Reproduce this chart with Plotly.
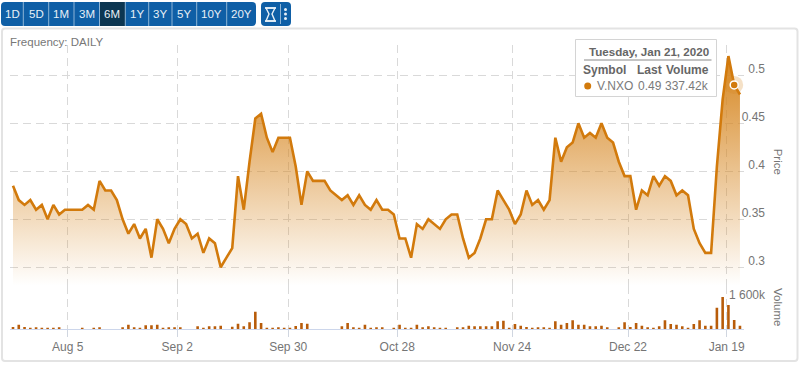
import plotly.graph_objects as go

W, H = 800, 365

price = [
    0.385, 0.37, 0.365, 0.37, 0.36, 0.365, 0.35, 0.365, 0.355, 0.36,   # 0-9
    0.36, 0.36, 0.36, 0.365, 0.36, 0.39, 0.38, 0.38, 0.37, 0.35,       # 10-19
    0.335, 0.345, 0.33, 0.34, 0.31, 0.35, 0.34, 0.325, 0.34, 0.35,     # 20-29
    0.345, 0.33, 0.335, 0.315, 0.33, 0.325, 0.30, 0.31, 0.32, 0.395,   # 30-39
    0.36, 0.41, 0.455, 0.46, 0.435, 0.42, 0.435, 0.435, 0.435, 0.405,  # 40-49
    0.365, 0.40, 0.39, 0.39, 0.39, 0.38, 0.375, 0.37, 0.375, 0.365,    # 50-59
    0.375, 0.365, 0.36, 0.37, 0.36, 0.36, 0.355, 0.33, 0.33, 0.31,     # 60-69
    0.345, 0.34, 0.35, 0.345, 0.34, 0.35, 0.355, 0.355, 0.33, 0.31,    # 70-79
    0.315, 0.33, 0.35, 0.35, 0.38, 0.37, 0.36, 0.345, 0.355, 0.38,     # 80-89
    0.365, 0.37, 0.36, 0.37, 0.435, 0.41, 0.425, 0.43, 0.45, 0.435,    # 90-99
    0.44, 0.435, 0.45, 0.435, 0.43, 0.41, 0.395, 0.395, 0.36, 0.38,    # 100-109
    0.375, 0.395, 0.385, 0.395, 0.39, 0.375, 0.38, 0.375, 0.34, 0.325, # 110-119
    0.315, 0.315, 0.405, 0.475, 0.52, 0.49, 0.48,                      # 120-126
]
volume_k = [
    74, 160, 74, 49, 62, 37, 37, 37, 62, 0,
    0, 0, 37, 0, 37, 62, 0, 0, 0, 62,
    160, 62, 37, 135, 135, 160, 37, 62, 62, 62,
    0, 0, 98, 37, 98, 98, 123, 0, 86, 197,
    98, 246, 640, 221, 37, 37, 62, 37, 37, 111,
    221, 197, 0, 0, 0, 0, 0, 98, 221, 62,
    37, 160, 37, 62, 62, 0, 37, 160, 37, 37,
    160, 62, 98, 62, 37, 37, 0, 62, 62, 123,
    98, 98, 98, 98, 283, 308, 37, 185, 123, 74,
    37, 62, 62, 37, 283, 160, 221, 320, 160, 160,
    98, 98, 123, 62, 0, 62, 246, 74, 221, 123,
    62, 37, 98, 320, 185, 160, 98, 37, 185, 320,
    123, 123, 787, 1181, 886, 337, 123,
]
trading_day = list(range(len(price)))

tick_positions = [9.48, 28.47, 47.7, 66.6, 86.5, 106.6, 123.7]
tick_labels = ["Aug 5", "Sep 2", "Sep 30", "Oct 28", "Nov 24", "Dec 22", "Jan 19"]
price_ticks = [0.3, 0.35, 0.4, 0.45, 0.5]
volume_ticks = [1600]
volume_tick_labels = ["1 600k"]
range_buttons = ["1D", "5D", "1M", "3M", "6M", "1Y", "3Y", "5Y", "10Y", "20Y"]
active_button = "6M"
hover_index = 125

LINE = "#d27a0c"
BAR = "#b85c0a"
GRID = "#d9d9d9"
TXT = "#757575"
FONT = "Liberation Sans"
BLUE = "#0f5fa6"
DARK = "#0c3651"


def px(x):
    return x / W


def py(y):
    return 1 - y / H


def path(points, close=True):
    d = "M " + " L ".join(f"{px(x):.5f},{py(y):.5f}" for x, y in points)
    return d + (" Z" if close else "")


def rrect(x0, y0, x1, y1, r):
    a, b = px, py
    return (
        f"M {a(x0+r)},{b(y0)} L {a(x1-r)},{b(y0)} Q {a(x1)},{b(y0)} {a(x1)},{b(y0+r)} "
        f"L {a(x1)},{b(y1-r)} Q {a(x1)},{b(y1)} {a(x1-r)},{b(y1)} "
        f"L {a(x0+r)},{b(y1)} Q {a(x0)},{b(y1)} {a(x0)},{b(y1-r)} "
        f"L {a(x0)},{b(y0+r)} Q {a(x0)},{b(y0)} {a(x0+r)},{b(y0)} Z"
    )


fig = go.Figure()

fig.add_trace(go.Scatter(
    x=trading_day, y=price, mode="lines", xaxis="x", yaxis="y",
    line=dict(color=LINE, width=2.6, shape="linear"),
    fill="tozeroy",
    fillgradient=dict(
        type="vertical", start=0.2808, stop=0.52,
        colorscale=[[0, "rgba(214,134,32,0)"], [1, "rgba(214,134,32,1)"]],
    ),
    hoverinfo="skip", showlegend=False,
))
fig.add_trace(go.Bar(
    x=trading_day, y=volume_k, xaxis="x2", yaxis="y2", width=0.45,
    marker=dict(color=BAR, line=dict(width=0)),
    hoverinfo="skip", showlegend=False,
))
fig.add_trace(go.Scatter(
    x=[trading_day[hover_index]], y=[price[hover_index]], mode="markers",
    xaxis="x", yaxis="y", cliponaxis=False,
    marker=dict(size=18, color="rgba(214,134,32,0.25)", line=dict(width=0)),
    hoverinfo="skip", showlegend=False,
))
fig.add_trace(go.Scatter(
    x=[trading_day[hover_index]], y=[price[hover_index]], mode="markers",
    xaxis="x", yaxis="y", cliponaxis=False,
    marker=dict(size=8, color=LINE, line=dict(width=1.5, color="#ffffff")),
    hoverinfo="skip", showlegend=False,
))

shapes = []
ann = []


def text(x, y, s, size=12, color=TXT, anchor="left", bold=False, angle=0):
    ann.append(dict(
        xref="paper", yref="paper", x=px(x), y=py(y), text=f"<b>{s}</b>" if bold else s,
        showarrow=False, xanchor=anchor, yanchor="middle", textangle=angle,
        font=dict(family=FONT, size=size, color=color), borderpad=0, borderwidth=0,
    ))


def line_shape(x0, y0, x1, y1, color, width=1, layer="above"):
    shapes.append(dict(type="line", xref="paper", yref="paper", x0=px(x0), y0=py(y0), x1=px(x1), y1=py(y1),
                       line=dict(color=color, width=width), layer=layer))


# outer frame
shapes.append(dict(type="path", xref="paper", yref="paper", path=rrect(2, 28.5, 797.5, 361, 3),
                   line=dict(color="#e3e3e3", width=2), fillcolor="rgba(0,0,0,0)", layer="below"))

# range buttons
edges = [1, 23.3, 48.7, 74, 99.5, 125.3, 148.7, 172, 196.7, 226.7, 256]
shapes.append(dict(type="path", xref="paper", yref="paper", path=rrect(1, 2, 256, 26, 4),
                   line=dict(width=0), fillcolor=BLUE, layer="above"))
for i, lab in enumerate(range_buttons):
    x0, x1 = edges[i], edges[i + 1]
    if lab == active_button:
        shapes.append(dict(type="rect", xref="paper", yref="paper", x0=px(x0), x1=px(x1), y0=py(2), y1=py(26),
                           line=dict(width=0), fillcolor=DARK, layer="above"))
    if i:
        line_shape(x0, 2, x0, 26, "#8db4d6", 1)
    text((x0 + x1) / 2, 14, lab, size=11.5, color="#e8f0f7", anchor="center")

# tool buttons
shapes.append(dict(type="path", xref="paper", yref="paper", path=rrect(261, 2, 291, 26, 4),
                   line=dict(width=0), fillcolor=BLUE, layer="above"))
line_shape(280.5, 4, 280.5, 24, "#8db4d6", 1)
shapes.append(dict(type="path", xref="paper", yref="paper",
                   path=path([(266, 8), (275, 8), (272, 14), (275, 21), (266, 21), (269, 14)]),
                   line=dict(color="#e8f0f7", width=1.4), fillcolor="rgba(0,0,0,0)", layer="above"))
line_shape(265, 8, 276, 8, "#e8f0f7", 1.6)
line_shape(265, 21, 276, 21, "#e8f0f7", 1.6)
for yy in (9.5, 14, 18.5):
    shapes.append(dict(type="circle", xref="paper", yref="paper", x0=px(284), x1=px(287), y0=py(yy - 1.5), y1=py(yy + 1.5),
                       line=dict(width=0), fillcolor="#e8f0f7", layer="above"))

# tooltip
shapes.append(dict(type="rect", xref="paper", yref="paper", x0=px(575.5), x1=px(716.5), y0=py(39.5), y1=py(96.5),
                   line=dict(color="#d4d4d4", width=1), fillcolor="#ffffff", layer="above"))
line_shape(584, 60, 711.5, 60, "#8a8a8a", 1)
shapes.append(dict(type="circle", xref="paper", yref="paper", x0=px(584.2), x1=px(591.2), y0=py(82.5), y1=py(89.5),
                   line=dict(width=0), fillcolor=LINE, layer="above"))
text(708.7, 51.7, "Tuesday, Jan 21, 2020", size=11.6, color="#666666", anchor="right", bold=True)
text(583.3, 70, "Symbol", size=12, color="#666666", bold=True)
text(662, 70, "Last", size=12, color="#666666", anchor="right", bold=True)
text(708.7, 70, "Volume", size=12, color="#666666", anchor="right", bold=True)
text(596.7, 86, "V.NXO", size=12, color="#7a7a7a")
text(662, 86, "0.49", size=12, color="#7a7a7a", anchor="right")
text(708.7, 86, "337.42k", size=12, color="#7a7a7a", anchor="right")

text(10.3, 41.7, "Frequency: DAILY", size=11.5, color="#777777")
text(778, 161.7, "Price", size=11.5, color=TXT, anchor="center", angle=90)
text(778, 307, "Volume", size=11.5, color=TXT, anchor="center", angle=90)

x_range = [-0.52, 126.7]
dom_x = [px(10), px(744)]
grid_dash = "8px,5px"

fig.update_layout(
    width=W, height=H, autosize=False,
    margin=dict(l=0, r=0, t=0, b=0),
    paper_bgcolor="#ffffff", plot_bgcolor="rgba(0,0,0,0)",
    font=dict(family=FONT, size=12, color=TXT),
    barmode="overlay", hovermode=False,
    shapes=shapes, annotations=ann, showlegend=False,
    xaxis=dict(domain=dom_x, range=x_range, anchor="y", showticklabels=False, ticks="",
               showgrid=True, gridcolor=GRID, griddash=grid_dash, gridwidth=1,
               tickmode="array", tickvals=tick_positions, zeroline=False, showline=False),
    yaxis=dict(domain=[py(285.7), py(45)], range=[0.2808, 0.5316], anchor="free", position=px(765), side="left",
               tickmode="array", tickvals=price_ticks, ticktext=["0.3", "0.35", "0.4", "0.45", "0.5"],
               ticklabelposition="outside top", ticklabelshift=2, ticks="", showline=False, zeroline=False,
               showgrid=True, gridcolor=GRID, griddash=grid_dash, gridwidth=1,
               tickfont=dict(family=FONT, size=12, color=TXT)),
    xaxis2=dict(domain=dom_x, range=x_range, anchor="y2", tickmode="array",
                tickvals=tick_positions, ticktext=tick_labels, showgrid=True, gridcolor=GRID,
                griddash=grid_dash, gridwidth=1, zeroline=False, showline=True, linecolor="#ccd6eb",
                linewidth=1, ticks="outside", ticklen=7, tickcolor="#d0d6e0", tickwidth=1,
                tickfont=dict(family=FONT, size=12, color=TXT)),
    yaxis2=dict(domain=[py(329), py(285.7)], range=[0, 1600], anchor="free", position=px(765), side="left",
                tickmode="array", tickvals=volume_ticks, ticktext=volume_tick_labels,
                ticklabelposition="outside bottom", ticklabelshift=1, ticks="", showline=False, zeroline=False,
                showgrid=True, gridcolor=GRID, griddash=grid_dash, gridwidth=1,
                tickfont=dict(family=FONT, size=12, color=TXT)),
)

fig.write_html("out.html", config=dict(displayModeBar=False),
               post_script="document.body.style.margin='0';document.documentElement.style.overflow='hidden';")
